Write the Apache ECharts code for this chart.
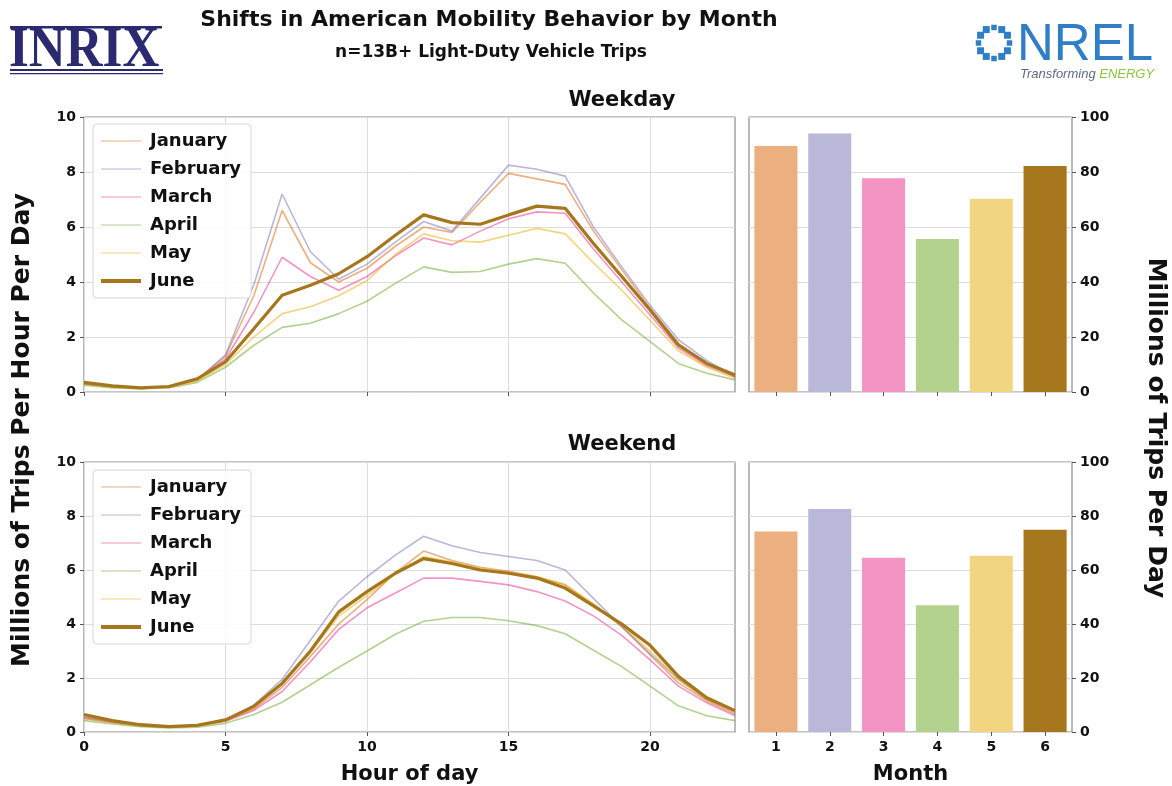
<!DOCTYPE html>
<html>
<head>
<meta charset="utf-8">
<title>Shifts in American Mobility Behavior by Month</title>
<script src="https://cdn.jsdelivr.net/npm/echarts@6/dist/echarts.min.js"></script>
<style>
  html, body { margin: 0; padding: 0; background: #fff; }
  #chart { width: 1172px; height: 786px; }
</style>
</head>
<body>
<div id="chart"></div>
<script>
// Hour of day (x axis of the line panels)
const hours = [0, 1, 2, 3, 4, 5, 6, 7, 8, 9, 10, 11, 12, 13, 14, 15, 16, 17, 18, 19, 20, 21, 22, 23];
const months = ['January', 'February', 'March', 'April', 'May', 'June'];
const monthNumbers = ['1', '2', '3', '4', '5', '6'];
const hourTicks = [0, 5, 10, 15, 20];
const tripTicks = [0, 2, 4, 6, 8, 10];
const dailyTicks = [0, 20, 40, 60, 80, 100];

// Millions of trips per hour, weekday
const weekdayJan = [0.3, 0.2, 0.15, 0.2, 0.45, 1.3, 3.5, 6.6, 4.7, 4.0, 4.5, 5.3, 6.0, 5.8, 6.9, 7.95, 7.75, 7.55, 5.85, 4.45, 3.05, 1.77, 1.05, 0.56];
const weekdayFeb = [0.3, 0.2, 0.15, 0.2, 0.45, 1.35, 3.9, 7.2, 5.1, 4.1, 4.65, 5.45, 6.2, 5.85, 7.05, 8.25, 8.1, 7.85, 6.0, 4.55, 3.15, 1.9, 1.15, 0.56];
const weekdayMar = [0.3, 0.2, 0.15, 0.2, 0.45, 1.2, 2.9, 4.9, 4.2, 3.7, 4.2, 4.95, 5.6, 5.35, 5.85, 6.3, 6.55, 6.5, 5.2, 4.0, 2.8, 1.6, 0.95, 0.55];
const weekdayApr = [0.25, 0.15, 0.12, 0.15, 0.35, 0.9, 1.7, 2.35, 2.5, 2.85, 3.3, 3.95, 4.55, 4.35, 4.38, 4.65, 4.85, 4.68, 3.6, 2.62, 1.83, 1.04, 0.68, 0.44];
const weekdayMay = [0.28, 0.18, 0.13, 0.18, 0.4, 1.0, 2.0, 2.85, 3.1, 3.5, 4.05, 5.0, 5.75, 5.5, 5.45, 5.7, 5.95, 5.75, 4.7, 3.7, 2.6, 1.5, 0.9, 0.5];
const weekdayJun = [0.35, 0.22, 0.15, 0.2, 0.48, 1.1, 2.3, 3.52, 3.88, 4.3, 4.92, 5.7, 6.44, 6.16, 6.1, 6.44, 6.76, 6.68, 5.4, 4.2, 2.98, 1.71, 1.04, 0.62];

// Millions of trips per hour, weekend
const weekendJan = [0.55, 0.38, 0.25, 0.2, 0.25, 0.42, 0.85, 1.65, 2.8, 4.0, 4.9, 5.9, 6.7, 6.35, 6.1, 5.95, 5.75, 5.45, 4.7, 3.9, 2.85, 1.82, 1.15, 0.67];
const weekendFeb = [0.55, 0.38, 0.25, 0.2, 0.25, 0.45, 1.0, 1.95, 3.4, 4.85, 5.75, 6.55, 7.25, 6.9, 6.65, 6.5, 6.35, 6.0, 4.95, 3.9, 2.9, 1.95, 1.2, 0.73];
const weekendMar = [0.5, 0.35, 0.22, 0.18, 0.22, 0.4, 0.8, 1.5, 2.6, 3.8, 4.6, 5.15, 5.7, 5.7, 5.58, 5.45, 5.2, 4.85, 4.3, 3.58, 2.67, 1.7, 1.08, 0.6];
const weekendApr = [0.42, 0.3, 0.2, 0.15, 0.18, 0.32, 0.65, 1.1, 1.75, 2.4, 3.0, 3.62, 4.1, 4.24, 4.24, 4.12, 3.94, 3.64, 3.03, 2.42, 1.7, 0.97, 0.6, 0.42];
const weekendMay = [0.5, 0.35, 0.22, 0.18, 0.22, 0.42, 0.9, 1.8, 2.95, 4.3, 5.05, 5.85, 6.5, 6.3, 6.05, 5.9, 5.75, 5.45, 4.75, 3.95, 3.0, 1.95, 1.2, 0.75];
const weekendJun = [0.65, 0.42, 0.27, 0.2, 0.25, 0.45, 0.95, 1.8, 3.0, 4.45, 5.2, 5.88, 6.42, 6.24, 6.0, 5.88, 5.7, 5.33, 4.67, 4.0, 3.21, 2.06, 1.27, 0.79];

// Millions of trips per day, by month
const weekdayTotals = [89.5, 94.0, 77.7, 55.6, 70.3, 82.2];
const weekendTotals = [74.3, 82.6, 64.5, 46.9, 65.3, 74.9];

const monthColors = ['#d95f02', '#7570b3', '#e7298a', '#66a61e', '#e6ab02', '#a6761d'];
const monthOpacity = [0.5, 0.5, 0.5, 0.5, 0.5, 1];
const barColors = ['#ecb080', '#bab8d9', '#f394c4', '#b3d28e', '#f2d580', '#a6761d'];

const weekdaySeries = [weekdayJan, weekdayFeb, weekdayMar, weekdayApr, weekdayMay, weekdayJun];
const weekendSeries = [weekendJan, weekendFeb, weekendMar, weekendApr, weekendMay, weekendJun];

const FONT = '"DejaVu Sans", sans-serif';
const TICK_LABEL = { fontFamily: FONT, fontWeight: 'bold', fontSize: 14, color: '#111' };
const FRAME = '#8c8c8c';
const GRIDLINE = '#dcdcdc';

const grids = [
  { left: 84, top: 117, width: 651, height: 275 },  // weekday lines
  { left: 749, top: 117, width: 323, height: 275 }, // weekday bars
  { left: 84, top: 462, width: 651, height: 275 },  // weekend lines
  { left: 749, top: 462, width: 323, height: 275 }  // weekend bars
].map(g => Object.assign({ show: true, borderColor: FRAME, borderWidth: 1.2, backgroundColor: 'transparent', containLabel: false }, g));

function hourAxis(gridIndex, showLabels) {
  return {
    type: 'value', gridIndex, min: 0, max: 23, interval: 5,
    axisLine: { show: false },
    axisTick: { show: true, length: 4, lineStyle: { color: '#555' }, customValues: hourTicks },
    axisLabel: Object.assign({ show: showLabels, margin: 8, customValues: hourTicks }, TICK_LABEL),
    splitLine: { show: true, lineStyle: { color: GRIDLINE, width: 1 } },
    name: showLabels ? 'Hour of day' : '',
    nameLocation: 'middle', nameGap: 32,
    nameTextStyle: { fontFamily: FONT, fontWeight: 'bold', fontSize: 21, color: '#111' }
  };
}
function monthAxis(gridIndex, showLabels) {
  return {
    type: 'category', gridIndex, data: monthNumbers,
    axisLine: { show: false },
    axisTick: { show: true, alignWithLabel: true, length: 4, lineStyle: { color: '#555' } },
    axisLabel: Object.assign({ show: showLabels, margin: 8 }, TICK_LABEL),
    splitLine: { show: false },
    name: showLabels ? 'Month' : '',
    nameLocation: 'middle', nameGap: 32,
    nameTextStyle: { fontFamily: FONT, fontWeight: 'bold', fontSize: 21, color: '#111' }
  };
}
function tripAxis(gridIndex) {
  return {
    type: 'value', gridIndex, min: tripTicks[0], max: tripTicks[tripTicks.length - 1], interval: 2,
    axisLine: { show: false },
    axisTick: { show: true, length: 4, lineStyle: { color: '#555' } },
    axisLabel: Object.assign({ margin: 8 }, TICK_LABEL),
    splitLine: { show: true, lineStyle: { color: GRIDLINE, width: 1 } }
  };
}
function dailyAxis(gridIndex) {
  return {
    type: 'value', gridIndex, position: 'right',
    min: dailyTicks[0], max: dailyTicks[dailyTicks.length - 1], interval: 20,
    axisLine: { show: false },
    axisTick: { show: true, length: 4, lineStyle: { color: '#555' } },
    axisLabel: Object.assign({ margin: 8 }, TICK_LABEL),
    splitLine: { show: true, lineStyle: { color: GRIDLINE, width: 1 } }
  };
}

function lineSeries(seriesList, axisIndex) {
  return seriesList.map((values, i) => ({
    type: 'line', name: months[i],
    xAxisIndex: axisIndex, yAxisIndex: axisIndex,
    data: hours.map((h, k) => [h, values[k]]),
    symbol: 'none', smooth: false,
    z: i === 5 ? 5 : 3,
    itemStyle: { color: monthColors[i], opacity: monthOpacity[i] },
    lineStyle: { color: monthColors[i], width: i === 5 ? 3.2 : 1.6, opacity: monthOpacity[i] },
    emphasis: { disabled: true }
  }));
}
function barSeries(values, axisIndex) {
  return {
    type: 'bar', xAxisIndex: axisIndex, yAxisIndex: axisIndex,
    barWidth: '80%',
    data: values.map((v, i) => ({ value: v, itemStyle: { color: barColors[i] } })),
    emphasis: { disabled: true }
  };
}

// Legend keys: thin strokes for January–May, a heavy stroke for June
const thinKey = 'path://M0,0 L40,0 L40,1.2 L0,1.2 Z M0,-1.4 L0.01,-1.4 L0.01,2.6 L0,2.6 Z';
const thickKey = 'path://M0,0 L40,0 L40,4 L0,4 Z';
function legendBox(top) {
  return {
    orient: 'vertical', left: 93, top: top,
    data: months.map((m, i) => ({ name: m, icon: i === 5 ? thickKey : thinKey })),
    itemWidth: 40, itemHeight: 4, itemGap: 10,
    padding: [8, 10, 8, 8],
    backgroundColor: 'rgba(255,255,255,0.85)',
    borderColor: '#d8d8d8', borderWidth: 1, borderRadius: 4,
    selectedMode: false,
    textStyle: { fontFamily: FONT, fontWeight: 'bold', fontSize: 18, color: '#111', lineHeight: 18, padding: [0, 0, 0, 4] }
  };
}

// NREL mark: ring of small squares
const ringSquares = [];
const ringAngles = [0, 30, 60, 90, 120, 150, 180, 210, 240, 270, 300, 330];
ringAngles.forEach(a => {
  const r = a * Math.PI / 180;
  const big = a % 90 !== 0;
  const s = big ? 7 : 5.5;
  ringSquares.push({
    type: 'rect',
    shape: { x: 994 + 15.5 * Math.cos(r) - s / 2, y: 43 + 15.5 * Math.sin(r) - s / 2, width: s, height: s },
    style: { fill: '#2f7ec6' }
  });
});

const chart = echarts.init(document.getElementById('chart'), null, { renderer: 'canvas' });
chart.setOption({
  backgroundColor: '#ffffff',
  animation: false,
  grid: grids,
  xAxis: [hourAxis(0, false), monthAxis(1, false), hourAxis(2, true), monthAxis(3, true)],
  yAxis: [tripAxis(0), dailyAxis(1), tripAxis(2), dailyAxis(3)],
  legend: [legendBox(124), legendBox(470)],
  series: [
    ...lineSeries(weekdaySeries, 0),
    barSeries(weekdayTotals, 1),
    ...lineSeries(weekendSeries, 2),
    barSeries(weekendTotals, 3)
  ],
  graphic: [
    { type: 'text', style: { text: 'Shifts in American Mobility Behavior by Month', x: 489, y: 9, textAlign: 'center', fontFamily: FONT, fontWeight: 'bold', fontSize: 22, fill: '#111' } },
    { type: 'text', style: { text: 'n=13B+ Light-Duty Vehicle Trips', x: 491, y: 44, textAlign: 'center', fontFamily: FONT, fontWeight: 'bold', fontSize: 17, fill: '#111' } },
    { type: 'text', style: { text: 'Weekday', x: 622, y: 90, textAlign: 'center', fontFamily: FONT, fontWeight: 'bold', fontSize: 21, fill: '#111' } },
    { type: 'text', style: { text: 'Weekend', x: 622, y: 434, textAlign: 'center', fontFamily: FONT, fontWeight: 'bold', fontSize: 21, fill: '#111' } },
    { type: 'text', x: 22, y: 430, rotation: Math.PI / 2,
      style: { text: 'Millions of Trips Per Hour Per Day', textAlign: 'center', textVerticalAlign: 'middle', fontFamily: FONT, fontWeight: 'bold', fontSize: 25, fill: '#111' } },
    { type: 'text', x: 1155, y: 428, rotation: -Math.PI / 2,
      style: { text: 'Millions of Trips Per Day', textAlign: 'center', textVerticalAlign: 'middle', fontFamily: FONT, fontWeight: 'bold', fontSize: 25, fill: '#111' } },
    // INRIX wordmark
    { type: 'rect', shape: { x: 10, y: 26, width: 152, height: 2.5 }, style: { fill: '#2b2a70' } },
    { type: 'text', x: 9, y: 22, scaleX: 0.88, scaleY: 1,
      style: { text: 'INRIX', fontFamily: '"Liberation Serif", "DejaVu Serif", serif', fontWeight: 'bold', fontSize: 58, fill: '#2b2a70', textVerticalAlign: 'top' } },
    { type: 'rect', shape: { x: 10, y: 69, width: 153, height: 2 }, style: { fill: '#2b2a70' } },
    { type: 'rect', shape: { x: 10, y: 73, width: 153, height: 1.2 }, style: { fill: '#2b2a70' } },
    // NREL wordmark
    ...ringSquares,
    { type: 'text', style: { text: 'NREL', x: 1017, y: 20, fontFamily: '"Liberation Sans", Arial, sans-serif', fontSize: 51, fill: '#2f7ec6' } },
    { type: 'text', style: { x: 1020, y: 68, text: '{a|Transforming }{b|ENERGY}',
      rich: {
        a: { fontFamily: '"Liberation Sans", sans-serif', fontStyle: 'italic', fontSize: 13, fill: '#5c6a84' },
        b: { fontFamily: '"Liberation Sans", sans-serif', fontStyle: 'italic', fontSize: 13, fill: '#8cc63f' }
      } } }
  ]
});
</script>
</body>
</html>
